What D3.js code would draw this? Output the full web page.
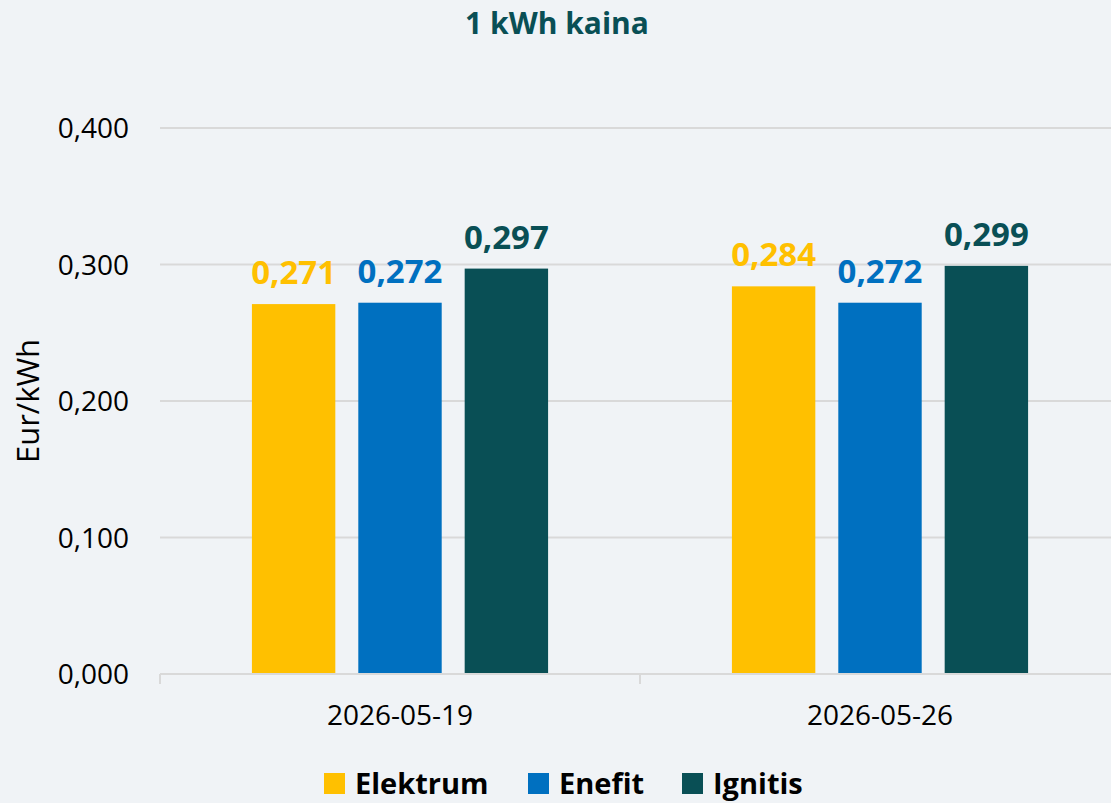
<!DOCTYPE html>
<html><head><meta charset="utf-8">
<script src="https://cdn.jsdelivr.net/npm/d3@7"></script>
<style>
html,body{margin:0;padding:0;background:#F0F3F6;}
svg{display:block;font-family:"Open Sans",sans-serif;}
</style></head><body>
<svg id="chart" width="1111" height="803"></svg>
<script>
const categories = ["2026-05-19", "2026-05-26"];
const seriesNames = ["Elektrum", "Enefit", "Ignitis"];
const elektrum = [0.271, 0.284];
const enefit = [0.272, 0.272];
const ignitis = [0.297, 0.299];
const yTicks = [0, 0.1, 0.2, 0.3, 0.4];
const colors = ["#FFC000", "#0070C0", "#094F55"];
const seriesValues = [elektrum, enefit, ignitis];

const W = 1111, H = 803;
const svg = d3.select("#chart");
svg.append("rect").attr("width", W).attr("height", H).attr("fill", "#F0F3F6");

const locale = d3.formatLocale({decimal: ",", thousands: " ", grouping: [3], currency: ["", ""]});
const fmt = locale.format(".3f");

const x0 = d3.scaleBand().domain(categories).range([160, 1120]).padding(0);
const x1 = d3.scaleBand().domain(seriesNames).range([0, x0.bandwidth()])
  .paddingInner(0.216).paddingOuter(0.864);
const y = d3.scaleLinear().domain([0, 0.4]).range([674, 128]);

// gridlines
svg.append("g").selectAll("line").data(yTicks.slice(1)).join("line")
  .attr("x1", 160).attr("x2", 1111)
  .attr("y1", d => y(d)).attr("y2", d => y(d))
  .attr("stroke", "#D9D9D9").attr("stroke-width", 2);

// y tick labels
svg.append("g").selectAll("text").data(yTicks).join("text")
  .attr("x", 129).attr("y", d => y(d)).attr("dy", "0.36em")
  .attr("text-anchor", "end").attr("font-size", 28).attr("fill", "#000")
  .text(d => fmt(d));

// bars
const groups = svg.append("g").selectAll("g").data(categories).join("g")
  .attr("transform", d => `translate(${x0(d)},0)`);
groups.each(function(cat, ci) {
  const g = d3.select(this);
  seriesNames.forEach((s, si) => {
    const v = seriesValues[si][ci];
    g.append("rect")
      .attr("x", x1(s)).attr("width", x1.bandwidth())
      .attr("y", y(v)).attr("height", y(0) - y(v))
      .attr("fill", colors[si]);
    g.append("text")
      .attr("x", x1(s) + x1.bandwidth() / 2).attr("y", y(v) - 20)
      .attr("text-anchor", "middle").attr("font-size", 33).attr("font-weight", "bold")
      .attr("fill", colors[si]).text(fmt(v));
  });
});

// x axis
const xa = svg.append("g");
xa.append("line").attr("x1", 160).attr("x2", 1111).attr("y1", y(0)).attr("y2", y(0))
  .attr("stroke", "#D9D9D9").attr("stroke-width", 2);
const tickPos = categories.map(c => x0(c)).concat([x0(categories[categories.length-1]) + x0.bandwidth()]);
xa.selectAll("line.t").data(tickPos).join("line").attr("class", "t")
  .attr("x1", d => d).attr("x2", d => d).attr("y1", y(0)).attr("y2", y(0) + 10)
  .attr("stroke", "#D9D9D9").attr("stroke-width", 2);
xa.selectAll("text").data(categories).join("text")
  .attr("x", d => x0(d) + x0.bandwidth() / 2).attr("y", 725)
  .attr("text-anchor", "middle").attr("font-size", 28).attr("fill", "#000")
  .text(d => d);

// y axis title
svg.append("text").attr("transform", "translate(39,401) rotate(-90)")
  .attr("text-anchor", "middle").attr("font-size", 31).attr("fill", "#000").text("Eur/kWh");

// title
svg.append("text").attr("x", 557).attr("y", 34).attr("text-anchor", "middle")
  .attr("font-size", 30).attr("font-weight", "bold").attr("fill", "#094F55").text("1 kWh kaina");

// legend
const legendX = [324, 528, 682];
const lg = svg.append("g").selectAll("g").data(seriesNames).join("g")
  .attr("transform", (d, i) => `translate(${legendX[i]},773)`);
lg.append("rect").attr("width", 21).attr("height", 21).attr("fill", (d, i) => colors[i]);
lg.append("text").attr("x", 31).attr("y", 21).attr("font-size", 29).attr("font-weight", "bold")
  .attr("fill", "#000").text(d => d);
</script>
</body></html>
